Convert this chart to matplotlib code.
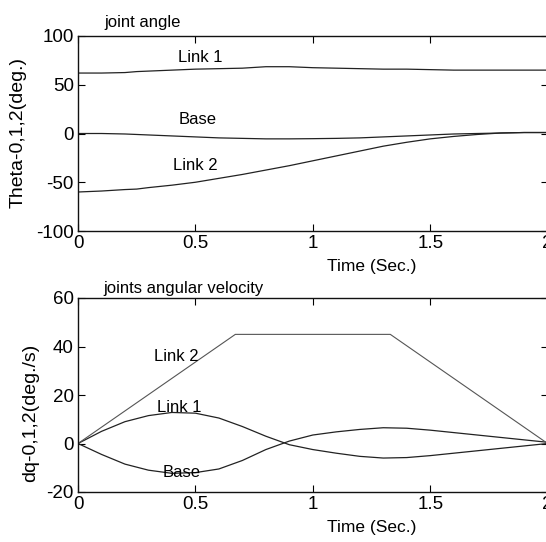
import matplotlib
matplotlib.use("Agg")
import matplotlib.pyplot as plt
import numpy as np

plt.rcParams['font.family'] = ['Liberation Sans', 'DejaVu Sans']
plt.rcParams['axes.unicode_minus'] = False

# --- Data: joint angle (deg) ---
t_ang = [0.0, 0.1, 0.2, 0.25, 0.3, 0.4, 0.5, 0.6, 0.7, 0.8, 0.9, 1.0, 1.1, 1.2, 1.3, 1.4, 1.5, 1.6, 1.7, 1.8, 1.9, 2.0]
link1_ang = [62, 62, 62.5, 63.5, 64, 65, 66, 66.5, 67, 68.5, 68.5, 67.5, 67, 66.5, 66, 66, 65.5, 65, 65, 65, 65, 65]
base_ang = [0, 0, -0.5, -1, -1.5, -2.5, -3.5, -4.5, -5, -5.5, -5.5, -5.3, -5, -4.5, -3.5, -2.5, -1.5, -0.5, 0, 0.5, 1, 1]
link2_ang = [-60, -59, -57.5, -57, -55.5, -53, -50, -46, -42, -37.5, -33, -28, -23, -18, -13, -9, -5.5, -3, -1, 0.5, 1, 1]

# --- Data: joint angular velocity (deg/s) ---
t_vel = [0.0, 0.1, 0.2, 0.3, 0.4, 0.5, 0.6, 0.7, 0.8, 0.9, 1.0, 1.1, 1.2, 1.3, 1.4, 1.5, 1.6, 1.7, 1.8, 1.9, 2.0]
link1_vel = [0, 5, 9, 11.5, 12.8, 12.5, 10.5, 7, 3, -0.5, -2.5, -4, -5.3, -6, -5.8, -5, -4, -3, -2, -1, 0]
base_vel = [0, -4.5, -8.5, -11, -12.3, -12, -10.5, -7, -2.5, 1, 3.5, 4.8, 5.8, 6.5, 6.3, 5.5, 4.5, 3.5, 2.5, 1.5, 0.5]
t_link2 = [0.0, 0.67, 1.33, 2.0]
link2_vel = [0, 45, 45, 0]

xticks = [0, 0.5, 1, 1.5, 2]
xticklabels = ['0', '0.5', '1', '1.5', '2']

W, H = 546, 542
fig = plt.figure(figsize=(W / 100, H / 100), dpi=100)
L, R = 78 / W, 1.003
ax1 = fig.add_axes([L, 1 - 231 / H, R - L, (231 - 36) / H])
ax2 = fig.add_axes([L, 1 - 492 / H, R - L, (492 - 298) / H])

lc = '#222222'
ax1.plot(t_ang, link1_ang, color=lc, lw=0.9)
ax1.plot(t_ang, base_ang, color=lc, lw=0.9)
ax1.plot(t_ang, link2_ang, color=lc, lw=0.9)
ax1.set_xlim(0, 2)
ax1.set_ylim(-100, 100)
ax1.set_yticks([-100, -50, 0, 50, 100])
ax1.text(0.52, 78, 'Link 1', ha='center', va='center', fontsize=12)
ax1.text(0.51, 14, 'Base', ha='center', va='center', fontsize=12)
ax1.text(0.50, -33, 'Link 2', ha='center', va='center', fontsize=12)
ax1.text(0.056, 1.03, 'joint angle', transform=ax1.transAxes, ha='left', va='bottom', fontsize=12)
fig.text(18 / W, 1 - 133 / H, 'Theta-0,1,2(deg.)', rotation=90, ha='center', va='center', fontsize=14)

ax2.plot(t_vel, link1_vel, color=lc, lw=0.9)
ax2.plot(t_vel, base_vel, color=lc, lw=0.9)
ax2.plot(t_link2, link2_vel, color='#555555', lw=0.8)
ax2.set_xlim(0, 2)
ax2.set_ylim(-20, 60)
ax2.set_yticks([-20, 0, 20, 40, 60])
ax2.text(0.42, 36, 'Link 2', ha='center', va='center', fontsize=12)
ax2.text(0.43, 15, 'Link 1', ha='center', va='center', fontsize=12)
ax2.text(0.44, -12, 'Base', ha='center', va='center', fontsize=12)
ax2.text(0.054, 1.01, 'joints angular velocity', transform=ax2.transAxes, ha='left', va='bottom', fontsize=12)
fig.text(31 / W, 1 - 413 / H, 'dq-0,1,2(deg./s)', rotation=90, ha='center', va='center', fontsize=14)

for ax in (ax1, ax2):
    ax.set_xticks(xticks)
    ax.set_xticklabels(xticklabels)
    ax.tick_params(direction='in', top=True, right=True, labelsize=13.5, length=5, width=0.8, pad=3)
    ax.set_xlabel('Time (Sec.)', fontsize=12.5)
    ax.xaxis.set_label_coords(0.626, -0.145)
    for s in ax.spines.values():
        s.set_linewidth(1.0)
        s.set_color('#111111')

fig.savefig('out.png', dpi=100)
